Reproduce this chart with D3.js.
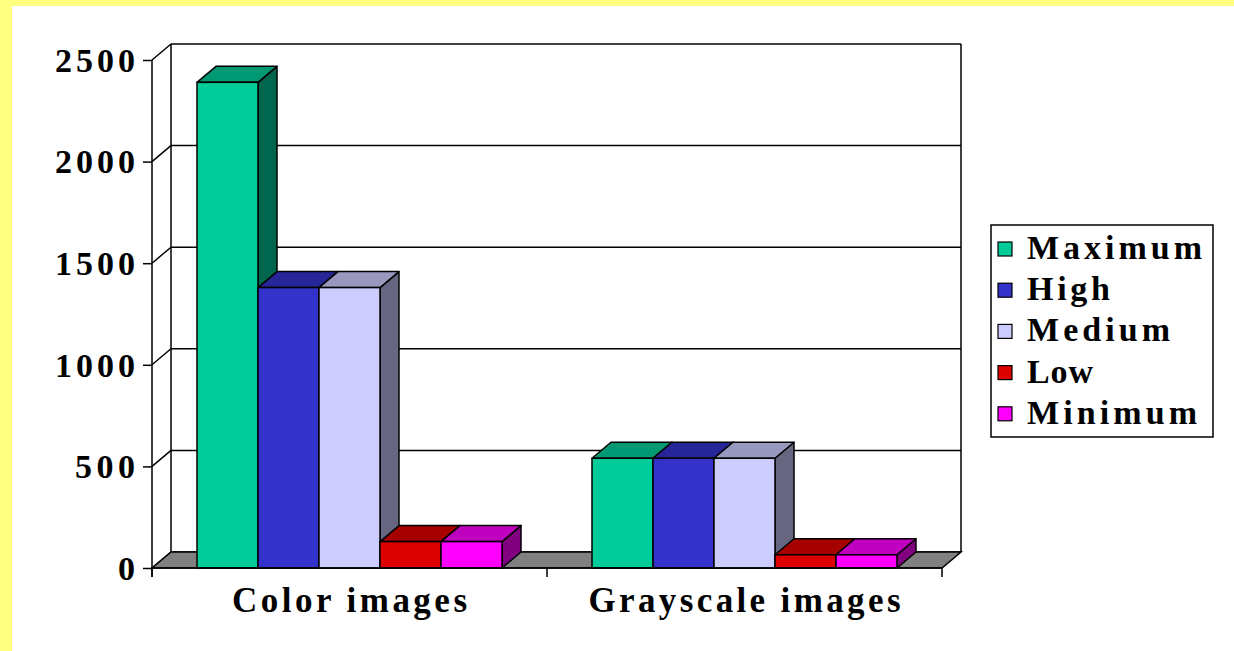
<!DOCTYPE html>
<html>
<head>
<meta charset="utf-8">
<script src="https://cdn.jsdelivr.net/npm/d3@7"></script>
<style>
  body { margin: 0; background: #fff; }
</style>
</head>
<body>
<svg width="1234" height="651"></svg>
<script>
var categories = ["Color images", "Grayscale images"];
var seriesNames = ["Maximum", "High", "Medium", "Low", "Minimum"];
var maximum = [2390, 540];
var high    = [1380, 540];
var medium  = [1380, 540];
var low     = [130, 65];
var minimum = [130, 65];
var yTicks  = [0, 500, 1000, 1500, 2000, 2500];

var seriesValues = [maximum, high, medium, low, minimum];
// front face, top face, side face
var colors = [
  ["#00cc99", "#009973", "#00664d"],
  ["#3333cc", "#262699", "#1a1a66"],
  ["#ccccff", "#9999bf", "#666680"],
  ["#dd0000", "#a60000", "#6e0000"],
  ["#ff00ff", "#bf00bf", "#800080"]
];
var FONT = "'Liberation Serif', 'Times New Roman', Times, serif";

var svg = d3.select("svg"),
    width = +svg.attr("width"),
    height = +svg.attr("height");

// yellow frame (top + left)
svg.append("rect").attr("x", 0).attr("y", 0).attr("width", width).attr("height", 6).attr("fill", "#ffff80");
svg.append("rect").attr("x", 0).attr("y", 0).attr("width", 12).attr("height", height).attr("fill", "#ffff80");

var dx = 19, dy = -16;   // depth offset
var x0 = 152, x1 = 942;

var x = d3.scaleBand().domain(categories).range([x0, x1]);
var y = d3.scaleLinear().domain([0, 2500]).range([568, 60]);

var g = svg.append("g");

// back wall gridlines + left wall
yTicks.forEach(function(t) {
  g.append("line")
    .attr("x1", x0 + dx).attr("x2", x1 + dx)
    .attr("y1", y(t) + dy).attr("y2", y(t) + dy)
    .attr("stroke", "#000").attr("stroke-width", 1.5);
  g.append("line")
    .attr("x1", x0).attr("y1", y(t))
    .attr("x2", x0 + dx).attr("y2", y(t) + dy)
    .attr("stroke", "#000").attr("stroke-width", 1.5);
});
g.append("line").attr("x1", x0 + dx).attr("x2", x0 + dx)
  .attr("y1", y(2500) + dy).attr("y2", y(0) + dy).attr("stroke", "#000").attr("stroke-width", 1.5);
g.append("line").attr("x1", x1 + dx).attr("x2", x1 + dx)
  .attr("y1", y(2500) + dy).attr("y2", y(0) + dy).attr("stroke", "#000").attr("stroke-width", 1.5);

// floor
g.append("path")
  .attr("d", "M" + x0 + "," + y(0) + "L" + x1 + "," + y(0) + "L" + (x1 + dx) + "," + (y(0) + dy) +
             "L" + (x0 + dx) + "," + (y(0) + dy) + "Z")
  .attr("fill", "#808080").attr("stroke", "#000").attr("stroke-width", 1.5);

// front y axis
g.append("line").attr("x1", x0).attr("x2", x0).attr("y1", y(2500)).attr("y2", y(0) + 9)
  .attr("stroke", "#000").attr("stroke-width", 1.5);
var yAxis = d3.axisLeft(y).tickValues(yTicks).tickSize(9).tickPadding(8).tickFormat(d3.format("d"));
var ya = svg.append("g").attr("transform", "translate(" + x0 + ",0)").call(yAxis);
ya.select(".domain").remove();
ya.selectAll(".tick line").attr("stroke", "#000").attr("stroke-width", 1.5);
ya.selectAll("text")
  .style("font-family", FONT).style("font-weight", "bold").style("font-size", "34px")
  .attr("dy", "0.33em").attr("x", -17).attr("fill", "#000")
  .attr("textLength", function(d) { return String(d).length * 20; })
  .attr("lengthAdjust", "spacing");

// bars
var bw = 61;
categories.forEach(function(c, ci) {
  var start = x(c) + (x.bandwidth() - bw * seriesNames.length) / 2;
  seriesNames.forEach(function(s, si) {
    var v = seriesValues[si][ci];
    var bx = start + si * bw, bx2 = bx + bw;
    var top = y(v), bot = y(0);
    var col = colors[si];
    var bar = g.append("g");
    bar.append("path")
      .attr("d", "M" + bx2 + "," + bot + "L" + (bx2 + dx) + "," + (bot + dy) + "L" + (bx2 + dx) + "," + (top + dy) +
                 "L" + bx2 + "," + top + "Z")
      .attr("fill", col[2]).attr("stroke", "#000").attr("stroke-width", 1.5).attr("stroke-linejoin", "round");
    bar.append("path")
      .attr("d", "M" + bx + "," + top + "L" + (bx + dx) + "," + (top + dy) + "L" + (bx2 + dx) + "," + (top + dy) +
                 "L" + bx2 + "," + top + "Z")
      .attr("fill", col[1]).attr("stroke", "#000").attr("stroke-width", 1.5).attr("stroke-linejoin", "round");
    bar.append("rect")
      .attr("x", bx).attr("y", top).attr("width", bw).attr("height", bot - top)
      .attr("fill", col[0]).attr("stroke", "#000").attr("stroke-width", 1.5);
  });
});

// x axis ticks + labels
[x0].concat(categories.map(function(c) { return x(c) + x.bandwidth(); })).forEach(function(t) {
  g.append("line").attr("x1", t).attr("x2", t).attr("y1", y(0)).attr("y2", y(0) + 9)
    .attr("stroke", "#000").attr("stroke-width", 1.5);
});
g.append("line").attr("x1", x0).attr("x2", x1).attr("y1", y(0)).attr("y2", y(0))
  .attr("stroke", "#000").attr("stroke-width", 1.5);
var catWidths = [235, 312];
categories.forEach(function(c, i) {
  svg.append("text")
    .attr("x", x(c) + x.bandwidth() / 2 - catWidths[i] / 2).attr("y", 612)
    .style("font-family", FONT).style("font-weight", "bold").style("font-size", "35px")
    .attr("textLength", catWidths[i]).attr("lengthAdjust", "spacing")
    .text(c);
});

// legend
var legWidths = [175, 83, 143, 66, 170];
var lg = svg.append("g").attr("transform", "translate(991,225)");
lg.append("rect").attr("width", 222).attr("height", 212)
  .attr("fill", "#fff").attr("stroke", "#000").attr("stroke-width", 1.5);
seriesNames.forEach(function(s, i) {
  var row = lg.append("g").attr("transform", "translate(0," + (24 + i * 41.2) + ")");
  row.append("rect").attr("x", 7).attr("y", -7).attr("width", 14).attr("height", 14)
    .attr("fill", colors[i][0]).attr("stroke", "#000").attr("stroke-width", 1.2);
  row.append("text").attr("x", 36).attr("y", 10)
    .style("font-family", FONT).style("font-weight", "bold").style("font-size", "34px")
    .attr("textLength", legWidths[i]).attr("lengthAdjust", "spacing")
    .text(s);
});
</script>
</body>
</html>
